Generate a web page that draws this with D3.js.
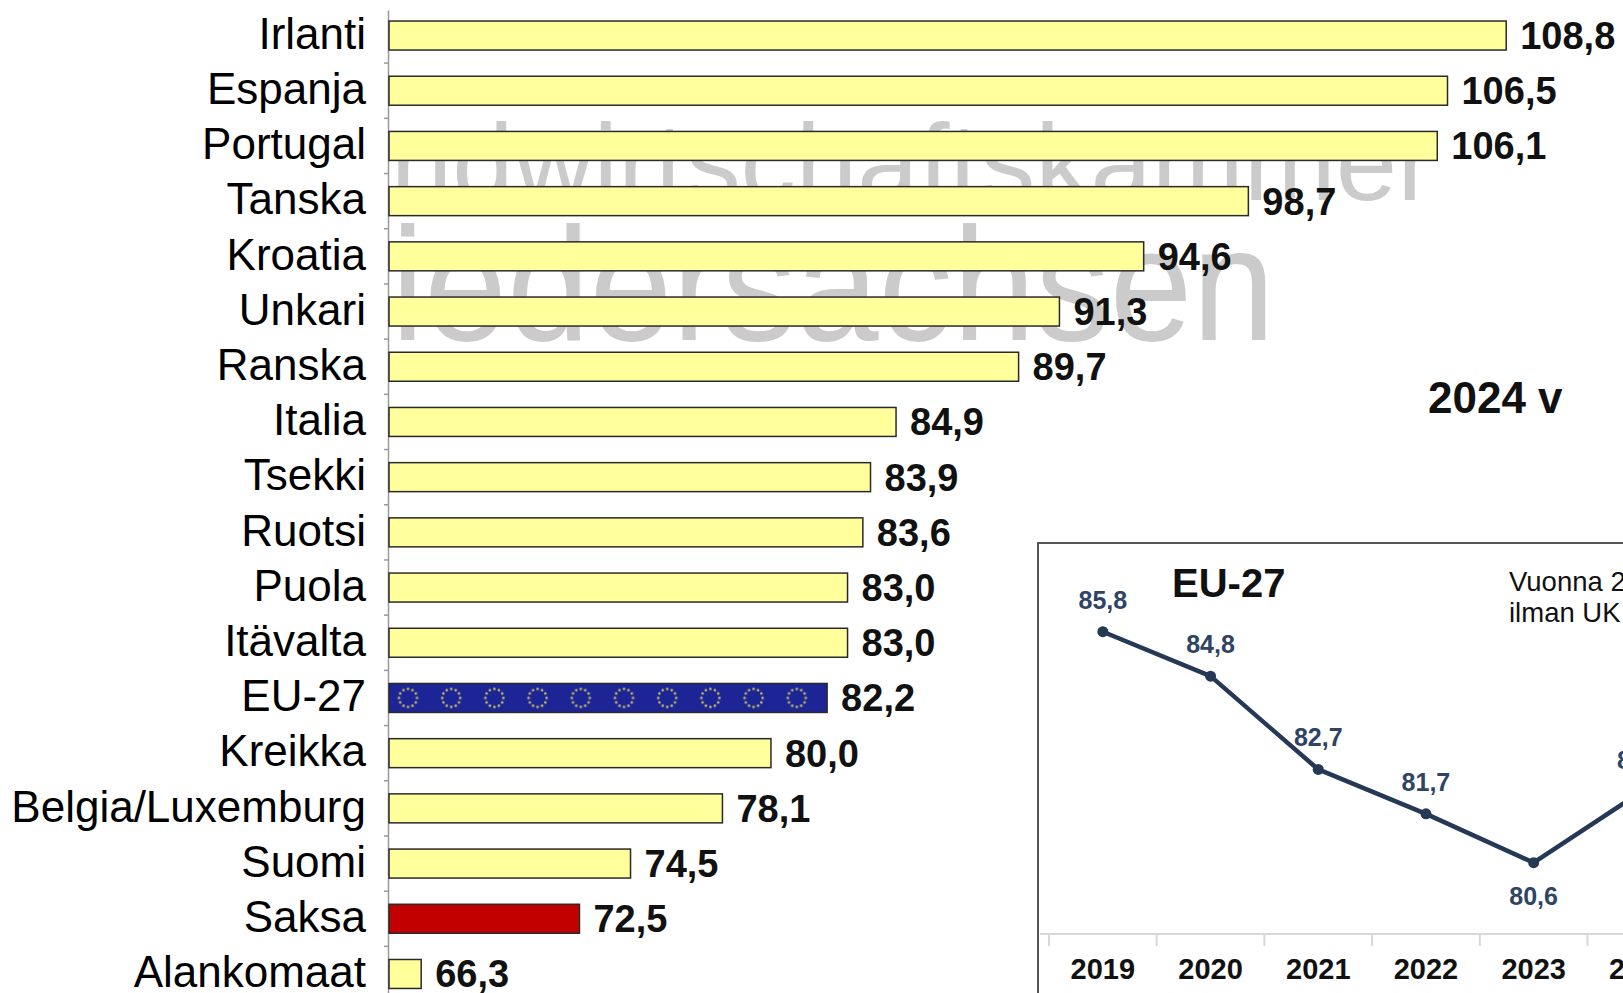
<!DOCTYPE html>
<html lang="fi">
<head>
  <meta charset="UTF-8">
  <title>Maidon tuottajahinta 2024</title>
  <script src="https://d3js.org/d3.v7.min.js"></script>
  <style>
    html, body { margin: 0; padding: 0; background: #fff; overflow: hidden; }
    svg { display: block; font-family: "Liberation Sans", Arial, sans-serif; }
    .cat .tick text { font-size: 44px; fill: #000; }
    .val { font-size: 38px; font-weight: bold; fill: #111; }
    .years .tick text { font-size: 29px; font-weight: bold; fill: #111; }
    .ptlab { font-size: 25px; font-weight: bold; fill: #2f4464; }
  </style>
</head>
<body>
<svg id="chart" width="1623" height="993"></svg>
<script>
// Data
const countries = ["Irlanti", "Espanja", "Portugal", "Tanska", "Kroatia", "Unkari",
  "Ranska", "Italia", "Tsekki", "Ruotsi", "Puola", "Itävalta", "EU-27", "Kreikka",
  "Belgia/Luxemburg", "Suomi", "Saksa", "Alankomaat"];
const values2024 = [108.8, 106.5, 106.1, 98.7, 94.6, 91.3, 89.7, 84.9, 83.9, 83.6,
  83.0, 83.0, 82.2, 80.0, 78.1, 74.5, 72.5, 66.3];
const euYears = ["2019", "2020", "2021", "2022", "2023", "2024"];
const euValues = [85.8, 84.8, 82.7, 81.7, 80.6, 82.2];

const fi = d3.formatLocale({ decimal: ",", thousands: " ", grouping: [3], currency: ["", " €"] });
const fmt = fi.format(".1f");

const width = 1623, height = 993;
const svg = d3.select('#chart');

// Scales for the bar chart
const axisX = 388;
const x = d3.scaleLinear().domain([65, 110]).range([axisX, axisX + 45 * 25.53]);
const y = d3.scaleBand().domain(countries).range([10, 999.5])
  .paddingInner(0.475).paddingOuter(0.2);

// EU flag pattern for the EU-27 bar
const defs = svg.append('defs');
const pat = defs.append('pattern')
  .attr('id', 'euflag')
  .attr('patternUnits', 'userSpaceOnUse')
  .attr('x', axisX).attr('y', y('EU-27'))
  .attr('width', 43.2).attr('height', y.bandwidth());
pat.append('rect').attr('width', 43.2).attr('height', y.bandwidth()).attr('fill', '#1d2596');
d3.range(12).forEach(i => {
  const a = i * Math.PI / 6;
  pat.append('circle')
    .attr('cx', 20 + 9 * Math.cos(a))
    .attr('cy', y.bandwidth() / 2 + 9 * Math.sin(a))
    .attr('r', 1.3).attr('fill', '#c9bd62');
});

defs.append('clipPath').attr('id', 'plotclip')
  .append('rect').attr('x', axisX + 1).attr('y', 0).attr('width', width).attr('height', height);

// Watermark behind the bars
const wm = svg.append('g').attr('clip-path', 'url(#plotclip)')
  .attr('fill', '#cbcbcb');
wm.append('text').attr('x', 268).attr('y', 200)
  .attr('font-size', 110).attr('textLength', 1166).attr('lengthAdjust', 'spacingAndGlyphs')
  .text('Landwirtschaftskammer');
wm.append('text').attr('x', 284).attr('y', 340)
  .attr('font-size', 162).attr('textLength', 991).attr('lengthAdjust', 'spacingAndGlyphs')
  .text('Niedersachsen');

// Category axis
const yAxis = svg.append('g').attr('class', 'cat')
  .attr('transform', `translate(${axisX},0)`)
  .call(d3.axisLeft(y).tickSize(0).tickPadding(22));
yAxis.select('.domain').attr('stroke', '#9a9a9a').attr('stroke-width', 1.5);
yAxis.selectAll('.tick text').attr('dy', '0.3em');

// small ticks between categories
svg.append('g').selectAll('line')
  .data(countries.slice(1))
  .join('line')
  .attr('x1', axisX - 4).attr('x2', axisX)
  .attr('y1', d => y(d) - (y.step() - y.bandwidth()) / 2)
  .attr('y2', d => y(d) - (y.step() - y.bandwidth()) / 2)
  .attr('stroke', '#9a9a9a').attr('stroke-width', 1.5);

// Bars
const barFill = d => d === 'EU-27' ? 'url(#euflag)' : (d === 'Saksa' ? '#c20000' : '#ffff9c');
svg.append('g').selectAll('rect')
  .data(countries)
  .join('rect')
  .attr('x', x(65) + 1)
  .attr('y', d => y(d))
  .attr('width', (d, i) => x(values2024[i]) - x(65) - 1)
  .attr('height', y.bandwidth())
  .attr('fill', barFill)
  .attr('stroke', '#2a2a2a').attr('stroke-width', 1.5);

svg.append('g').selectAll('text')
  .data(countries)
  .join('text')
  .attr('class', 'val')
  .attr('x', (d, i) => x(values2024[i]) + 14)
  .attr('y', d => y(d) + y.bandwidth() / 2 + 13.5)
  .text((d, i) => fmt(values2024[i]));

svg.append('text')
  .attr('x', 1428).attr('y', 413)
  .attr('font-size', 44).attr('font-weight', 'bold').attr('fill', '#111')
  .text('2024 v');

// Inset: EU-27 development
const inset = svg.append('g');
inset.append('rect')
  .attr('x', 1038).attr('y', 543).attr('width', 700).attr('height', 500)
  .attr('fill', '#fff').attr('stroke', '#555').attr('stroke-width', 2);

const ix = d3.scaleBand().domain(euYears).range([1049, 1049 + 6 * 107.7]);
const iy = d3.scaleLinear().domain([78, 88]).range([978.2, 534]);
const axisY = 934;

inset.append('line')
  .attr('x1', 1040).attr('x2', width).attr('y1', axisY).attr('y2', axisY)
  .attr('stroke', '#d8d8d8').attr('stroke-width', 2);
inset.append('g').selectAll('line')
  .data(euYears)
  .join('line')
  .attr('x1', d => ix(d)).attr('x2', d => ix(d))
  .attr('y1', axisY).attr('y2', axisY + 12)
  .attr('stroke', '#d8d8d8').attr('stroke-width', 2);

const xAxis = inset.append('g').attr('class', 'years')
  .attr('transform', `translate(0,${axisY})`)
  .call(d3.axisBottom(ix).tickSize(0).tickPadding(24));
xAxis.select('.domain').remove();

const cx = d => ix(d) + ix.bandwidth() / 2;
const line = d3.line().x(d => cx(d[0])).y(d => iy(d[1]));
const pts = euYears.map((yr, i) => [yr, euValues[i]]);

inset.append('path')
  .attr('d', line(pts))
  .attr('fill', 'none').attr('stroke', '#253856').attr('stroke-width', 4.5)
  .attr('stroke-linejoin', 'round');
inset.append('g').selectAll('circle')
  .data(pts)
  .join('circle')
  .attr('cx', d => cx(d[0])).attr('cy', d => iy(d[1]))
  .attr('r', 5.5).attr('fill', '#253856');

inset.append('g').selectAll('text')
  .data(pts)
  .join('text')
  .attr('class', 'ptlab')
  .attr('text-anchor', 'middle')
  .attr('x', d => cx(d[0]))
  .attr('y', (d, i) => i === 4 ? iy(d[1]) + 42 : iy(d[1]) - 23)
  .text(d => fmt(d[1]));

inset.append('text')
  .attr('x', 1172).attr('y', 597)
  .attr('font-size', 40).attr('font-weight', 'bold').attr('fill', '#111')
  .text('EU-27');

inset.append('text')
  .attr('x', 1509).attr('y', 591)
  .attr('font-size', 27.5).attr('fill', '#111')
  .selectAll('tspan')
  .data(['Vuonna 2019', 'ilman UK'])
  .join('tspan')
  .attr('x', 1509)
  .attr('dy', (d, i) => i === 0 ? 0 : 31)
  .text(d => d);
</script>
</body>
</html>
